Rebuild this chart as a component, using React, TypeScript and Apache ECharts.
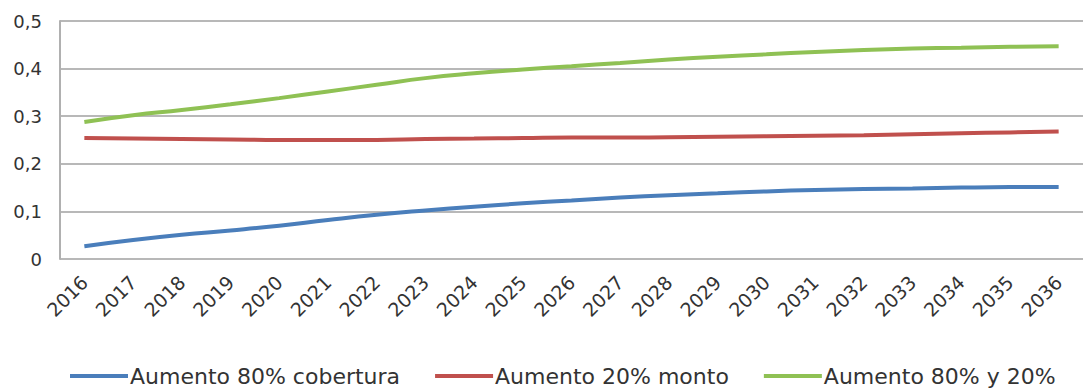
import React, { useEffect, useRef } from "react";
import * as echarts from "echarts";

const years = ["2016","2017","2018","2019","2020","2021","2022","2023","2024","2025","2026","2027","2028","2029","2030","2031","2032","2033","2034","2035","2036"];
const cobertura = [0.027,0.04,0.051,0.06,0.07,0.082,0.093,0.102,0.11,0.117,0.123,0.129,0.134,0.138,0.142,0.145,0.147,0.148,0.15,0.151,0.151];
const monto = [0.254,0.253,0.252,0.251,0.25,0.25,0.25,0.252,0.253,0.254,0.255,0.255,0.256,0.257,0.258,0.259,0.26,0.262,0.264,0.266,0.268];
const ambos = [0.288,0.302,0.313,0.325,0.338,0.352,0.366,0.38,0.39,0.398,0.405,0.412,0.419,0.425,0.43,0.435,0.439,0.442,0.444,0.446,0.447];
const seriesNames = ["Aumento 80% cobertura","Aumento 20% monto","Aumento 80% y 20%"];

export default function App() {
  const ref = useRef<HTMLDivElement>(null);
  useEffect(() => {
    document.body.style.margin = "0";
    const chart = echarts.init(ref.current!, null, { renderer: "svg" });
    const font = "'DejaVu Sans', sans-serif";
    const mk = (name: string, data: number[], color: string) => ({
      name, type: "line", data, smooth: true, symbol: "none",
      lineStyle: { color, width: 4 }, itemStyle: { color },
    });
    chart.setOption({
      animation: false,
      textStyle: { fontFamily: font },
      grid: { left: 60, right: -11, top: 21, bottom: 132, containLabel: false },
      legend: {
        top: 365, left: 70, itemWidth: 58, itemHeight: 4, itemGap: 35,
        padding: 0,
        icon: "rect",
        textStyle: { fontSize: 22, color: "#333", fontFamily: font, padding: [0, 0, 0, -3] },
        data: seriesNames,
      },
      xAxis: {
        type: "category", data: years, boundaryGap: true,
        axisLine: { show: false }, axisTick: { show: false },
        axisLabel: { rotate: 45, fontSize: 19, color: "#333", margin: 20, interval: 0 },
      },
      yAxis: {
        type: "value", min: 0, max: 0.5, interval: 0.1,
        axisLine: { show: true, lineStyle: { color: "#b0b0b0", width: 2 } },
        axisTick: { show: false },
        axisLabel: { fontSize: 18, color: "#333", margin: 18, formatter: (v: number) => v === 0 ? "0" : v.toFixed(1).replace(".", ",") },
        splitLine: { lineStyle: { color: "#b8b8b8", width: 2 } },
      },
      series: [
        mk(seriesNames[0], cobertura, "#4a7ebb"),
        mk(seriesNames[1], monto, "#c0504d"),
        mk(seriesNames[2], ambos, "#8fc154"),
      ],
    });
    return () => chart.dispose();
  }, []);
  return <div ref={ref} style={{ width: 1083, height: 391 }} />;
}
